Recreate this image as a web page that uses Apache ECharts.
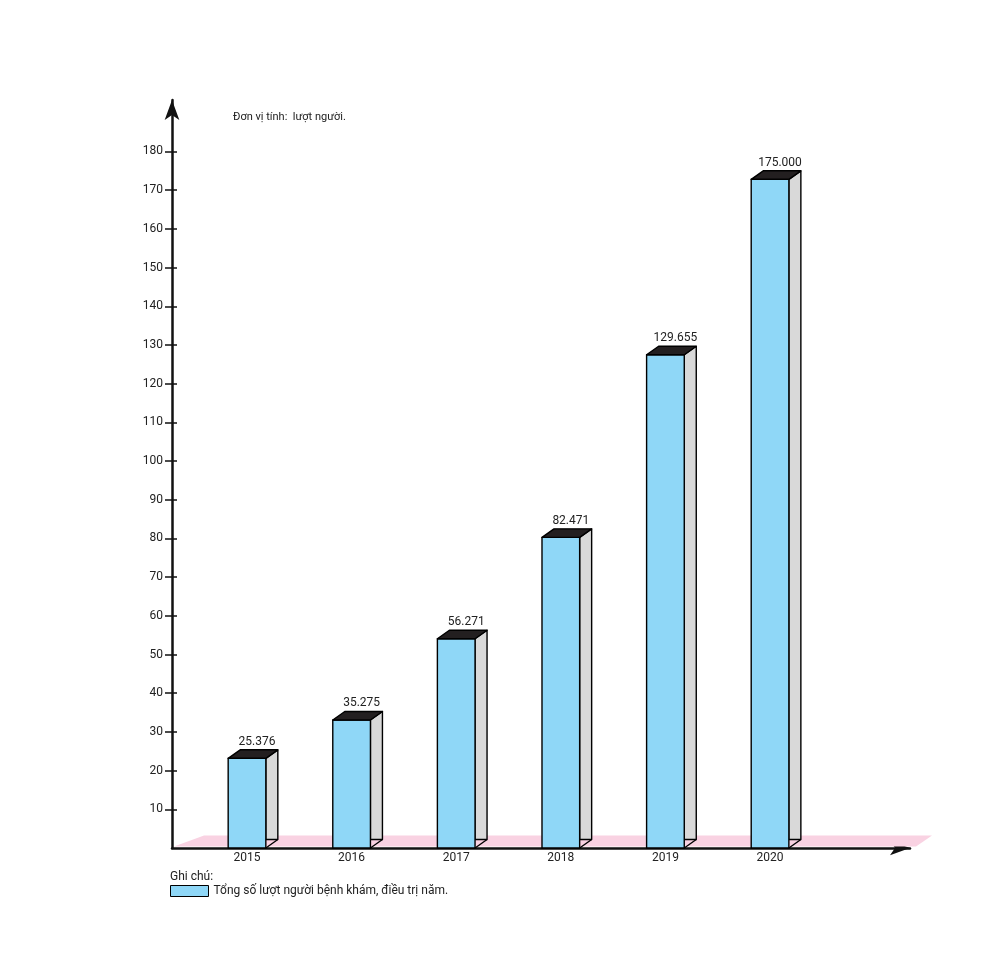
<!DOCTYPE html>
<html>
<head>
<meta charset="utf-8">
<script src="https://cdn.jsdelivr.net/npm/echarts@6/dist/echarts.min.js"></script>
<style>
html,body{margin:0;padding:0;background:#fff;}
#main{width:1000px;height:976px;}
</style>
</head>
<body>
<div id="main"></div>
<script>
var years = ['2015', '2016', '2017', '2018', '2019', '2020'];
var values = [25.376, 35.275, 56.271, 82.471, 129.655, 175.000];
var yTicks = [10, 20, 30, 40, 50, 60, 70, 80, 90, 100, 110, 120, 130, 140, 150, 160, 170, 180];
var unitText = 'Đơn vị tính:  lượt người.';
var noteTitle = 'Ghi chú:';
var seriesName = 'Tổng số lượt người bệnh khám, điều trị năm.';

var X_MIN = -0.717, X_MAX = 6.338;
var Y_MAX = 193.3;
var DX = 12, DY = 8.5;
var FRONT = '#8fd7f7', TOPC = '#231f20', SIDE = '#d9d9d9';

var chart = echarts.init(document.getElementById('main'));

function renderBar(params, api) {
  var i = api.value(0), v = api.value(1);
  var c = api.coord([i, v]);
  var b = api.coord([i, 0]);
  var w = api.size([0.36, 0])[0];
  var xL = c[0] - w / 2, xR = c[0] + w / 2;
  var y0 = b[1];
  var yT = c[1] + DY;
  var ls = {stroke: '#000', lineWidth: 1.4, lineJoin: 'round'};
  return {
    type: 'group',
    children: [
      {type: 'polygon', shape: {points: [[xR, yT], [xR + DX, yT - DY], [xR + DX, y0 - DY], [xR, y0 - DY]]},
        style: Object.assign({fill: SIDE}, ls)},
      {type: 'line', shape: {x1: xR, y1: y0, x2: xR + DX, y2: y0 - DY}, style: ls},
      {type: 'rect', shape: {x: xL, y: yT, width: w, height: y0 - yT},
        style: Object.assign({fill: FRONT}, ls)},
      {type: 'polygon', shape: {points: [[xL, yT], [xR, yT], [xR + DX, yT - DY], [xL + DX, yT - DY]]},
        style: Object.assign({fill: TOPC}, ls)},
      {type: 'text', x: c[0] + DX / 2 + 4, y: c[1] - 8,
        style: {text: v.toFixed(3), fill: '#222', font: '12px Roboto', align: 'center', verticalAlign: 'middle'}}
    ]
  };
}

function renderFloor(params, api) {
  var a = api.coord([X_MIN, 0]);
  var b = api.coord([X_MAX, 0]);
  var y = a[1] - 1.5;
  return {
    type: 'polygon',
    z2: -1,
    shape: {points: [[a[0] + 2, y], [a[0] + 32, y - 11], [b[0] + 22, y - 11], [b[0] + 6, y]]},
    style: {fill: '#f9d2e2'}
  };
}

chart.setOption({
  animation: false,
  backgroundColor: '#fff',
  textStyle: {fontFamily: 'Roboto'},
  grid: {left: 172, right: 90, top: 100, bottom: 128},
  xAxis: {
    type: 'value', min: X_MIN, max: X_MAX,
    splitLine: {show: false},
    axisLine: {onZero: false, lineStyle: {color: '#111', width: 2.5}, symbol: ['none', 'arrow'], symbolSize: [11, 20]},
    axisTick: {show: false},
    axisLabel: {customValues: [0, 1, 2, 3, 4, 5], formatter: function (v) { return years[Math.round(v)]; },
      color: '#222', fontSize: 12, margin: 4}
  },
  yAxis: [{
    type: 'value', min: 0, max: Y_MAX,
    splitLine: {show: false},
    axisLine: {show: true, onZero: false, lineStyle: {color: '#111', width: 2.5}, symbol: ['none', 'arrow'], symbolSize: [11, 20]},
    axisTick: {show: true, customValues: yTicks, length: 7, lineStyle: {color: '#111', width: 1.5}},
    axisLabel: {customValues: yTicks, color: '#222', fontSize: 12, margin: 9}
  }, {
    type: 'value', min: 0, max: Y_MAX, position: 'left',
    splitLine: {show: false},
    axisLine: {show: false, onZero: false},
    axisTick: {show: true, inside: true, customValues: yTicks, length: 5, lineStyle: {color: '#111', width: 1.5}},
    axisLabel: {show: false}
  }],
  legend: {
    left: 170, top: 885, padding: 0, itemWidth: 38, itemHeight: 11, itemGap: 5,
    icon: 'rect',
    textStyle: {color: '#222', fontSize: 12, fontFamily: 'Roboto', padding: [0, 0, 0, 0]},
    data: [{name: seriesName, itemStyle: {color: FRONT, borderColor: '#000', borderWidth: 1}}]
  },
  graphic: [
    {type: 'text', left: 233, top: 112, style: {text: unitText, fill: '#222', font: '11px Roboto'}},
    {type: 'text', left: 170, top: 871, style: {text: noteTitle, fill: '#222', font: '12px Roboto'}}
  ],
  series: [
    {type: 'custom', name: 'floor', silent: true, z: 1, renderItem: renderFloor, data: [[0, 0]],
      encode: {x: 0, y: 1}},
    {type: 'custom', name: seriesName, z: 3, renderItem: renderBar,
      itemStyle: {color: FRONT},
      data: values.map(function (v, i) { return [i, v]; }),
      encode: {x: 0, y: 1}}
  ]
});
</script>
</body>
</html>
